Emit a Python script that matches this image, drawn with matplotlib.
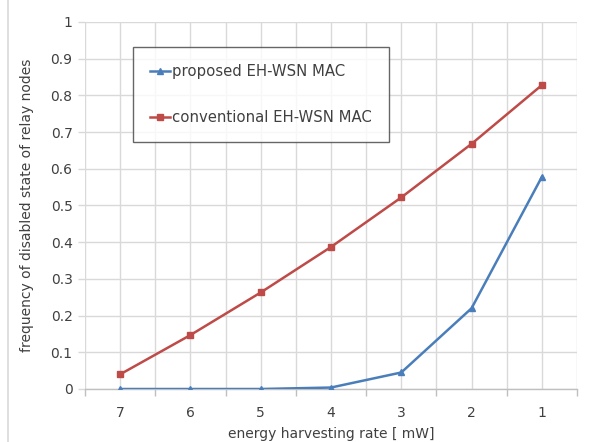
import numpy as np
import matplotlib.pyplot as plt
from matplotlib.lines import Line2D

# data
rates = ['7', '6', '5', '4', '3', '2', '1']
proposed = [0.0, 0.0, 0.0, 0.004, 0.045, 0.22, 0.578]
conventional = [0.04, 0.147, 0.263, 0.387, 0.522, 0.668, 0.828]

txt = '#404040'
grid_c = '#d9d9d9'

fig = plt.figure(figsize=(5.9, 4.42), dpi=100)
ax = fig.add_axes([85 / 590, 1 - 389 / 442, 492 / 590, 367 / 442])

x = np.arange(len(rates))
ax.plot(x, proposed, color='#4a7ebb', lw=1.8, marker='^', ms=4,
        label='proposed EH-WSN MAC', zorder=3)
ax.plot(x, conventional, color='#be4b48', lw=1.8, marker='s', ms=5,
        label='conventional EH-WSN MAC', zorder=3)

ax.set_xlim(-0.5, len(rates) - 0.5)
ax.set_ylim(0, 1)
ax.set_yticks(np.arange(0, 1.01, 0.1))
ax.set_yticklabels(['0', '0.1', '0.2', '0.3', '0.4', '0.5', '0.6', '0.7', '0.8', '0.9', '1'])
ax.set_xticks(x)
ax.set_xticklabels(rates)
ax.set_xticks(np.arange(-0.5, len(rates), 1.0), minor=True)

# grid at every 0.1 and at category centers and boundaries
ax.grid(True, which='major', color=grid_c, lw=1, zorder=0)
ax.grid(True, which='minor', axis='x', color=grid_c, lw=1, zorder=0)
ax.set_axisbelow(True)

for s in ['top', 'right', 'left']:
    ax.spines[s].set_visible(False)
ax.spines['bottom'].set_color('#bfbfbf')
ax.spines['bottom'].set_linewidth(1)

ax.tick_params(axis='x', which='major', length=0, pad=12, labelsize=10, labelcolor=txt)
ax.tick_params(axis='x', which='minor', length=5, color='#bfbfbf', width=1)
ax.tick_params(axis='y', length=5, color=grid_c, width=1, pad=4, labelsize=10, labelcolor=txt)

ax.set_xlabel('energy harvesting rate [ mW]', fontsize=10, color=txt, labelpad=5)
ax.set_ylabel('frequency of disabled state of relay nodes', fontsize=10, color=txt, labelpad=12)

leg = ax.legend(loc='upper left', bbox_to_anchor=(48 / 492, 1 - 25 / 367),
                frameon=True, fancybox=False, fontsize=10.7, labelspacing=2.1,
                handlelength=1.35, handletextpad=0.15, borderpad=1.15,
                edgecolor='#404040', borderaxespad=0)
leg.get_frame().set_linewidth(1)
for t in leg.get_texts():
    t.set_color(txt)

# light frame line at the left edge of the figure
fig.lines.append(Line2D([8 / 590, 8 / 590], [0, 1], transform=fig.transFigure,
                        color='#d9d9d9', lw=1.2))

plt.savefig('out.png', dpi=100)
